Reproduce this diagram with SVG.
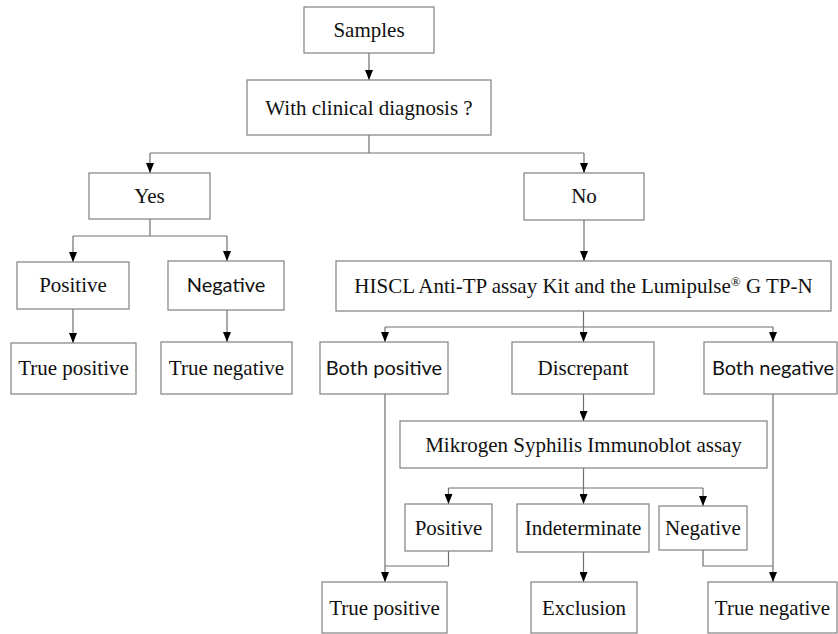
<svg xmlns="http://www.w3.org/2000/svg" width="838" height="634" viewBox="0 0 838 634">
<style>
  .box { fill: #ffffff; stroke: #808080; stroke-width: 1.2; }
  .t { font-family: "Liberation Serif", "Times New Roman", serif; font-size: 21px; fill: #111; text-anchor: middle; }
  .s { font-family: Lato, "Open Sans", "Liberation Sans", sans-serif; font-size: 20px; fill: #111; text-anchor: middle; }
  .ln { fill: none; stroke: #707070; stroke-width: 1.2; }
  .ar { marker-end: url(#ah); }
  .sup { font-size: 13px; }
</style>
<defs>
  <marker id="ah" viewBox="0 0 10 8" refX="10" refY="4" markerWidth="10" markerHeight="8" orient="auto" markerUnits="userSpaceOnUse">
    <path d="M0,0 L10,4 L0,8 Z" fill="#000"/>
  </marker>
</defs>
<rect width="838" height="634" fill="#ffffff"/>

<g id="connectors">
  <path class="ln ar" d="M369,53 V80"/>
  <path class="ln" d="M369,135 V153 M150,153 H584"/>
  <path class="ln ar" d="M150,153 V173"/>
  <path class="ln ar" d="M584,153 V173"/>
  <path class="ln" d="M150,219 V236 M73,236 H227"/>
  <path class="ln ar" d="M73,236 V262"/>
  <path class="ln ar" d="M227,236 V261"/>
  <path class="ln ar" d="M73,309 V343"/>
  <path class="ln ar" d="M227,310 V342"/>
  <path class="ln ar" d="M584,220 V261"/>
  <path class="ln" d="M583.5,311 V327 M385,327 H773"/>
  <path class="ln ar" d="M385,327 V342"/>
  <path class="ln ar" d="M583.5,327 V342"/>
  <path class="ln ar" d="M773,327 V342"/>
  <path class="ln ar" d="M385,394 V582"/>
  <path class="ln ar" d="M583.5,394 V421"/>
  <path class="ln" d="M583.5,468 V488 M448.5,488 H703"/>
  <path class="ln ar" d="M448.5,488 V504"/>
  <path class="ln ar" d="M583.5,488 V504"/>
  <path class="ln ar" d="M703,488 V506"/>
  <path class="ln" d="M448.5,551 V566 H385"/>
  <path class="ln ar" d="M583.5,552 V582"/>
  <path class="ln" d="M703,550 V566 H773"/>
  <path class="ln ar" d="M773,394 V582"/>
</g>

<g id="samples"><rect class="box" x="304" y="7" width="130" height="46"/><text class="t" x="369" y="37">Samples</text></g>
<g id="clinical"><rect class="box" x="247" y="80" width="244" height="55"/><text class="t" x="369" y="115">With clinical diagnosis ?</text></g>
<g id="yes"><rect class="box" x="89" y="173" width="121" height="46"/><text class="t" x="149.5" y="203">Yes</text></g>
<g id="no"><rect class="box" x="524" y="173" width="120" height="47"/><text class="t" x="584" y="203">No</text></g>
<g id="positive-left"><rect class="box" x="17" y="262" width="112" height="47"/><text class="t" x="73" y="292">Positive</text></g>
<g id="negative-left"><rect class="box" x="168" y="261" width="116" height="49"/><text class="s" x="226" y="292">Negative</text></g>
<g id="true-positive-left"><rect class="box" x="11" y="343" width="125" height="51"/><text class="t" x="73.5" y="375">True positive</text></g>
<g id="true-negative-left"><rect class="box" x="161" y="342" width="131" height="52"/><text class="t" x="226.5" y="375">True negative</text></g>
<g id="hiscl"><rect class="box" x="336" y="261" width="495" height="50"/><text class="t" x="583.5" y="293">HISCL Anti-TP assay Kit and the Lumipulse<tspan class="sup" dy="-7">®</tspan><tspan dy="7"> G TP-N</tspan></text></g>
<g id="both-positive"><rect class="box" x="320" y="342" width="128" height="52"/><text class="s" x="384" y="375">Both positive</text></g>
<g id="discrepant"><rect class="box" x="512" y="342" width="142" height="52"/><text class="t" x="583" y="375">Discrepant</text></g>
<g id="both-negative"><rect class="box" x="704" y="342" width="133" height="52"/><text class="s" x="773" y="375">Both negative</text></g>
<g id="mikrogen"><rect class="box" x="400" y="421" width="367" height="47"/><text class="t" x="583.5" y="452">Mikrogen Syphilis Immunoblot assay</text></g>
<g id="positive-mid"><rect class="box" x="405" y="504" width="87" height="47"/><text class="t" x="448.5" y="535">Positive</text></g>
<g id="indeterminate"><rect class="box" x="517" y="504" width="132" height="48"/><text class="t" x="583" y="535">Indeterminate</text></g>
<g id="negative-mid"><rect class="box" x="659" y="506" width="88" height="44"/><text class="t" x="703" y="535">Negative</text></g>
<g id="true-positive-bottom"><rect class="box" x="322" y="582" width="125" height="51"/><text class="t" x="384.5" y="615">True positive</text></g>
<g id="exclusion"><rect class="box" x="531" y="582" width="106" height="51"/><text class="t" x="584" y="615">Exclusion</text></g>
<g id="true-negative-bottom"><rect class="box" x="708" y="582" width="129" height="51"/><text class="t" x="772.5" y="615">True negative</text></g>
</svg>
